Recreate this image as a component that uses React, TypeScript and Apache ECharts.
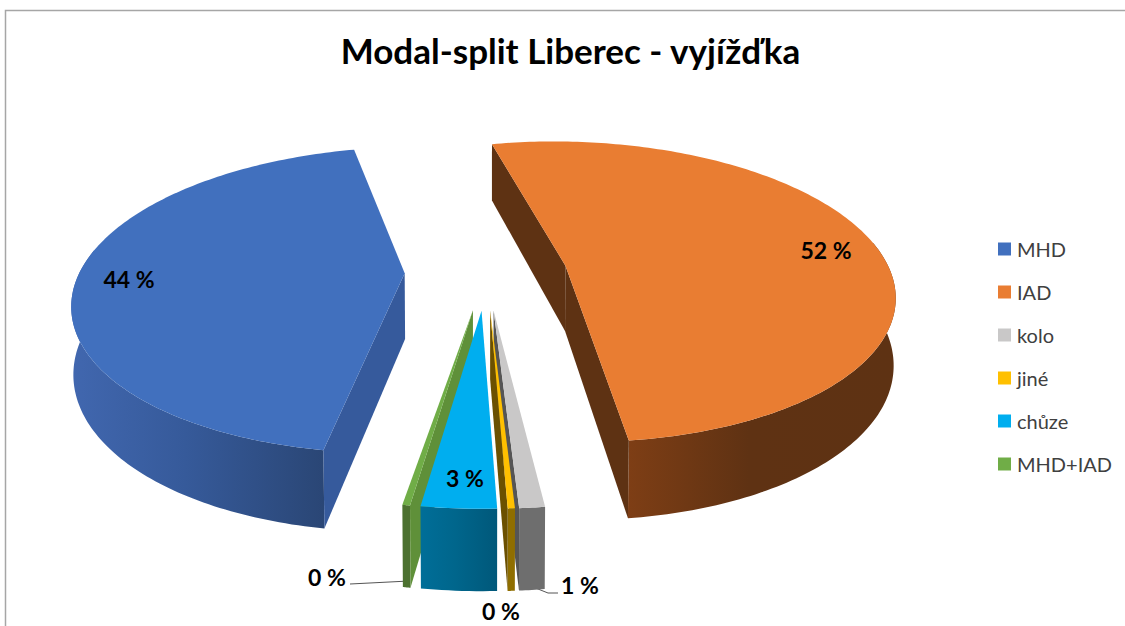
import React, { useEffect, useRef } from "react";
import * as echarts from "echarts";

const titleText = "Modal-split Liberec - vyjížďka";
const categories = ["MHD", "IAD", "kolo", "jiné", "chůze", "MHD+IAD"];
const shares = [43.81, 51.72, 1.0, 0.28, 2.95, 0.3];
const shareLabels = ["44 %", "52 %", "1 %", "0 %", "3 %", "0 %"];

const topColors = ["#4170BE", "#E97D32", "#C9C8C8", "#FFC000", "#00AEEF", "#70AD47"];
const cutColors = ["#365A9C", "#5E3213", "#555555", "#6B5000", "#00668C", "#5F9039"];
const wallFrom = ["#4167AF", "#7E3E15", "#6E6E6E", "#8F6E00", "#006E98", "#4C7130"];
const wallMid = ["#365A9A", "#5F3213", "#6E6E6E", "#8F6E00", "#00668C", "#4C7130"];
const wallTo = ["#2A4675", "#5E3213", "#6E6E6E", "#8F6E00", "#00587A", "#4C7130"];
const sliceLayers = [2, 2, 2, 2, 3, 1];

const labelSpots: [number, number][] = [
  [129, 279],
  [826, 250],
  [580, 585],
  [501, 611],
  [465, 478],
  [327, 577],
];

const START_ANGLE = 189.4;
const EXPLODE = 0.25;
const CX = 486;
const CY = 272;
const A = 325;
const B = 148;
const P = 0.175;
const H = 66;
const Q = 0.005;
const RAD = Math.PI / 180;

const total = shares.reduce((s, v) => s + v, 0);

function project(X: number, Y: number, d: number): number[] {
  const w = 1 - P * Y + Q * d;
  return [CX + (A * X) / w, CY + (B * Y + H * d) / w];
}

function signedArea(pts: number[][]): number {
  let sum = 0;
  pts.forEach((p, i) => {
    const q = pts[(i + 1) % pts.length];
    sum += p[0] * q[1] - q[0] * p[1];
  });
  return sum / 2;
}

function sliceShapes(index: number) {
  let before = 0;
  for (let i = 0; i < index; i++) before += shares[i];
  const a0 = START_ANGLE + (before / total) * 360;
  const a1 = a0 + (shares[index] / total) * 360;
  const mid = ((a0 + a1) / 2) * RAD;
  const ex = EXPLODE * Math.sin(mid);
  const ey = -EXPLODE * Math.cos(mid);
  const rim = (deg: number, d: number) =>
    project(ex + Math.sin(deg * RAD), ey - Math.cos(deg * RAD), d);
  const steps = Math.max(8, Math.ceil(a1 - a0));
  const angles: number[] = [];
  for (let i = 0; i <= steps; i++) angles.push(a0 + ((a1 - a0) * i) / steps);
  const frontAngles = angles.filter((t) => {
    const m = ((t % 360) + 360) % 360;
    return m >= 80 && m <= 280;
  });
  const topArc = angles.map((t) => rim(t, 0));
  const botArc = angles.map((t) => rim(t, 1));
  const apexTop = project(ex, ey, 0);
  const apexBot = project(ex, ey, 1);
  return {
    top: [apexTop, ...topArc],
    wall: [
      ...frontAngles.map((t) => rim(t, 0)),
      ...frontAngles.map((t) => rim(t, 1)).reverse(),
    ],
    cutA: [apexTop, topArc[0], botArc[0], apexBot],
    cutB: [apexTop, topArc[steps], botArc[steps], apexBot],
  };
}

function makeRenderItem(index: number) {
  return () => {
    const s = sliceShapes(index);
    const poly = (points: number[][], fill: any) => ({
      type: "polygon",
      shape: { points },
      style: { fill, stroke: null },
    });
    const children: any[] = [
      poly(
        s.wall,
        new echarts.graphic.LinearGradient(0, 0, 1, 0, [
          { offset: 0, color: wallFrom[index] },
          { offset: 0.45, color: wallMid[index] },
          { offset: 1, color: wallTo[index] },
        ]),
      ),
    ];
    if (signedArea(s.cutA) < 0) children.push(poly(s.cutA, cutColors[index]));
    if (signedArea(s.cutB) > 0) children.push(poly(s.cutB, cutColors[index]));
    children.push(poly(s.top, topColors[index]));
    return { type: "group", children };
  };
}

export default function App() {
  const ref = useRef<HTMLDivElement>(null);
  useEffect(() => {
    if (!ref.current) return;
    const chart = echarts.init(ref.current, undefined, { renderer: "svg" });
    const font = "Lato, 'Open Sans', sans-serif";
    chart.setOption({
      animation: false,
      backgroundColor: "#ffffff",
      title: {
        text: titleText,
        left: 565.5,
        top: 27,
        textAlign: "center",
        textStyle: { fontFamily: font, fontSize: 35, fontWeight: 700, color: "#000000" },
      },
      legend: {
        orient: "vertical",
        left: 993,
        top: 234,
        icon: "rect",
        itemWidth: 13,
        itemHeight: 13,
        itemGap: 23,
        data: categories,
        selectedMode: false,
        textStyle: { fontFamily: font, fontSize: 20, color: "#404040", padding: [0, 0, 0, 1] },
      },
      series: categories.map((name, i) => ({
        type: "custom",
        name,
        coordinateSystem: "none",
        silent: true,
        z: sliceLayers[i],
        itemStyle: { color: topColors[i] },
        data: [[shares[i]]],
        renderItem: makeRenderItem(i),
      })),
      graphic: [
        { type: "rect", shape: { x: 5.5, y: 10.5, width: 1130, height: 630 }, style: { fill: "none", stroke: "#a6a6a6", lineWidth: 1.5 }, z: -1, silent: true },
        { type: "polyline", shape: { points: [[350, 584], [409, 581]] }, style: { stroke: "#555555", lineWidth: 1, fill: "none" }, silent: true },
        { type: "polyline", shape: { points: [[528, 585], [548, 593], [558, 593]] }, style: { stroke: "#555555", lineWidth: 1, fill: "none" }, silent: true },
        ...shareLabels.map((text, i) => ({
          type: "text",
          x: labelSpots[i][0],
          y: labelSpots[i][1],
          z: 100,
          style: {
            text,
            fill: "#000000",
            font: `700 23px ${font}`,
            textAlign: "center",
            textVerticalAlign: "middle",
          },
        })),
      ],
    });
    return () => chart.dispose();
  }, []);
  return <div ref={ref} style={{ position: "fixed", left: 0, top: 0, width: 1125, height: 626 }} />;
}
